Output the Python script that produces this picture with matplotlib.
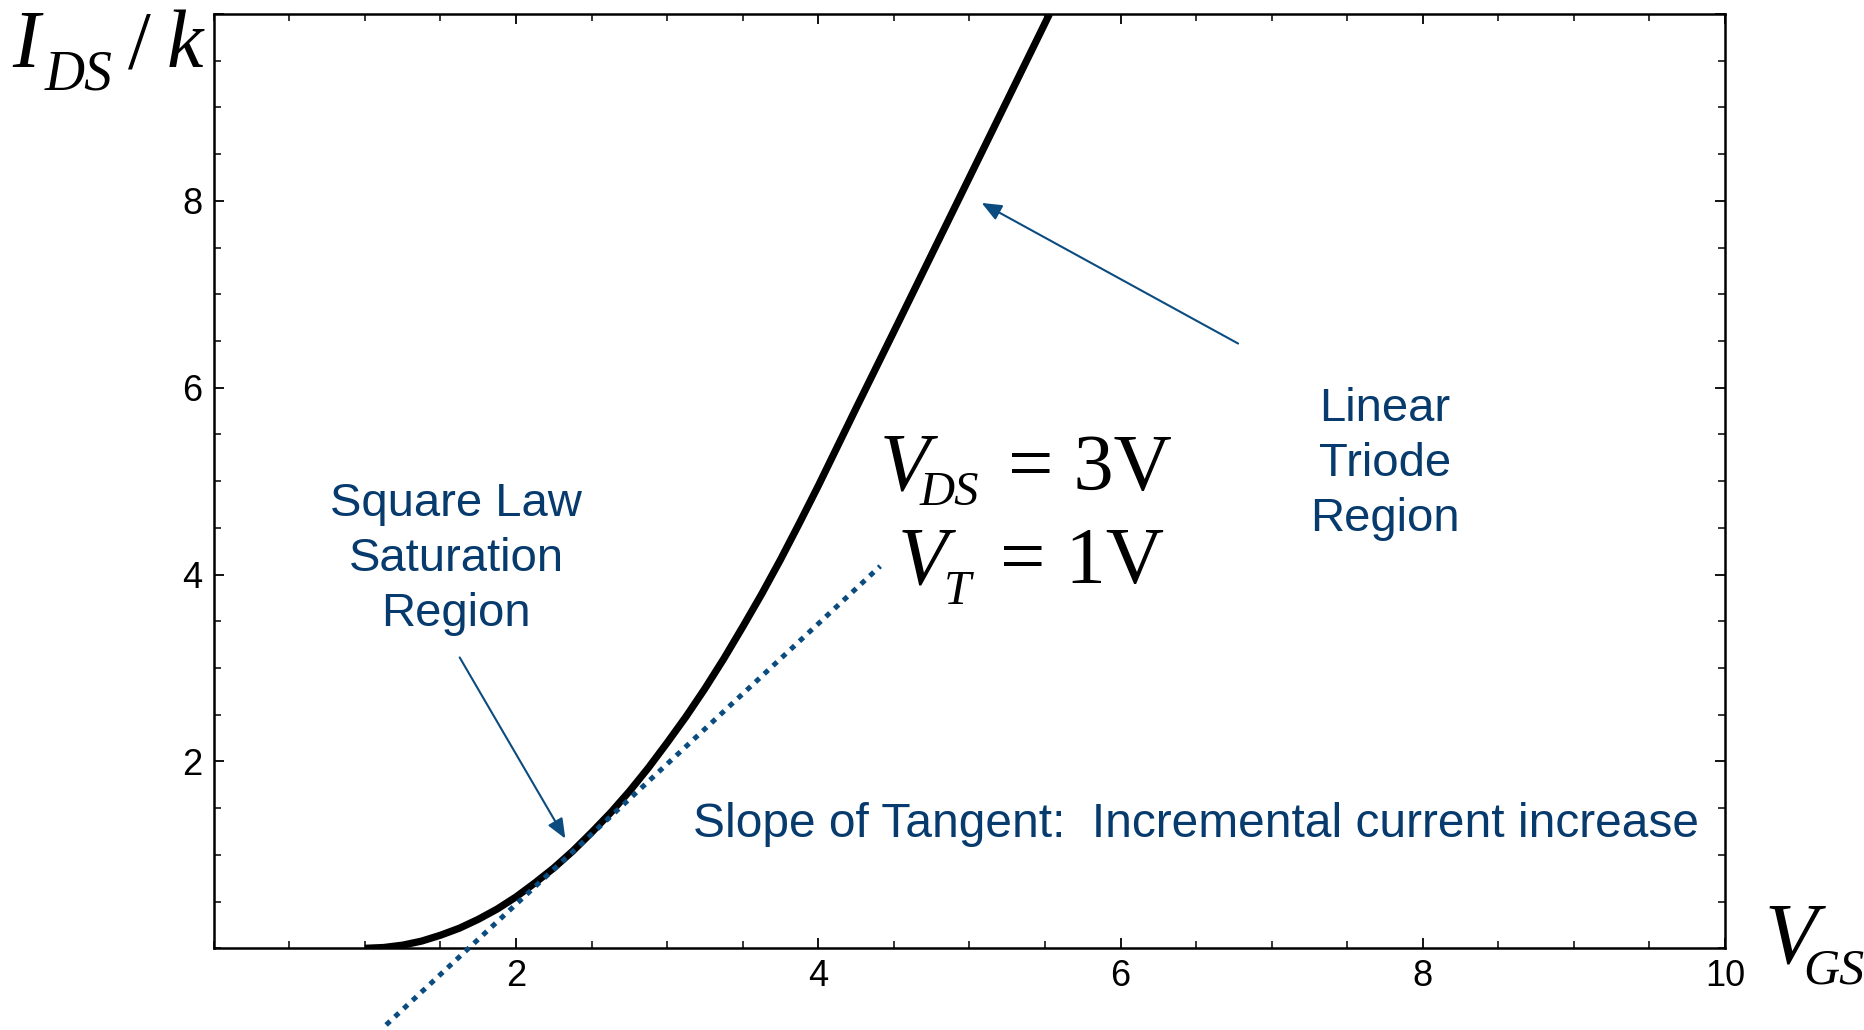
import numpy as np
import matplotlib
matplotlib.use("Agg")
import matplotlib.pyplot as plt
from matplotlib.ticker import MultipleLocator, FixedLocator

# -----------------------------
# Data: I_DS/k versus V_GS (V_DS = 3 V, V_T = 1 V)
# -----------------------------
vgs = [1.0, 1.125, 1.25, 1.375, 1.5, 1.625, 1.75, 1.875, 2.0, 2.125,
       2.25, 2.375, 2.5, 2.625, 2.75, 2.875, 3.0, 3.125, 3.25, 3.375,
       3.5, 3.625, 3.75, 3.875, 4.0, 4.25, 4.5, 5.0, 5.53]
ids_k = [0.0, 0.009, 0.034, 0.077, 0.14, 0.215, 0.31, 0.42, 0.55, 0.70,
         0.86, 1.04, 1.24, 1.45, 1.68, 1.93, 2.2, 2.48, 2.78, 3.10,
         3.44, 3.79, 4.16, 4.55, 4.95, 5.78, 6.6, 8.25, 10.0]

# tangent line drawn at the saturation-region point
tangent_x = [1.14, 4.41]
tangent_y = [-0.82, 4.09]

x_major = [2, 4, 6, 8, 10]
y_major = [2, 4, 6, 8]

W, H = 1865, 1030
navy = "#073b6d"
blue = "#0b4c80"

plt.rcParams["font.family"] = ["Liberation Sans", "DejaVu Sans"]

fig = plt.figure(figsize=(W / 100, H / 100), dpi=100)
ax = fig.add_axes([213.8 / W, 81.7 / H, (1725 - 213.8) / W, (948.3 - 14) / H])

ax.plot(vgs, ids_k, color="black", lw=5.2, solid_capstyle="butt",
        solid_joinstyle="round", zorder=3)
ax.plot(tangent_x, tangent_y, color=blue, lw=3.6, dashes=(1.1, 1.3),
        dash_capstyle="butt", clip_on=False, zorder=4)

ax.set_xlim(0, 10)
ax.set_ylim(0, 10)

# -----------------------------
# Frame and ticks
# -----------------------------
for s in ax.spines.values():
    s.set_linewidth(1.8)

ax.xaxis.set_major_locator(FixedLocator(x_major))
ax.yaxis.set_major_locator(FixedLocator(y_major + [10]))
ax.xaxis.set_minor_locator(MultipleLocator(0.5))
ax.yaxis.set_minor_locator(MultipleLocator(0.5))
ax.set_xticklabels([str(v) for v in x_major])
ax.set_yticklabels([str(v) for v in y_major] + [""])

ax.tick_params(which="both", direction="in", top=True, right=True,
               labelsize=26, pad=8, colors="black")
ax.tick_params(which="major", length=7.5, width=1.3)
ax.tick_params(which="minor", length=5, width=1.1)

# -----------------------------
# Axis labels
# -----------------------------
serif = ["Liberation Serif", "DejaVu Serif"]


def fig_text(px, py, s, size, style="italic"):
    fig.text(px / W, 1 - py / H, s, fontsize=size, family=serif,
             style=style, ha="left", va="baseline")


fig_text(12, 67, "I", 59)
fig_text(45, 89, "DS", 40)
fig_text(128, 67, "/", 59, style="normal")
fig_text(167, 67, "k", 59)

fig_text(1765, 962, "V", 62)
fig_text(1803, 983, "GS", 36)

# -----------------------------
# Annotations
# -----------------------------
ax.text(1.603, 4.167, "Square Law\nSaturation\nRegion", color=navy,
        fontsize=34, ha="center", va="center", linespacing=1.32)
ax.text(7.751, 5.181, "Linear\nTriode\nRegion", color=navy,
        fontsize=34, ha="center", va="center", linespacing=1.32)
ax.text(3.171, 1.327, "Slope of Tangent:  Incremental current increase",
        color=navy, fontsize=34.5, ha="left", va="center")

arrow = dict(arrowstyle="-|>,head_length=0.6,head_width=0.25", lw=1.5,
             color=blue, shrinkA=0, shrinkB=0, mutation_scale=20)
ax.annotate("", xy=(2.326, 1.174), xytext=(1.627, 3.113), arrowprops=arrow)
ax.annotate("", xy=(5.081, 7.978), xytext=(6.778, 6.473), arrowprops=arrow)


def ax_text(x, y, s, size, style="italic"):
    ax.text(x, y, s, fontsize=size, family=serif, style=style,
            ha="left", va="baseline")


ax_text(4.409, 4.910, "V", 59)
ax_text(4.67, 4.74, "DS", 35)
ax_text(5.256, 4.910, "= 3V", 58, style="normal")
ax_text(4.528, 3.909, "V", 59)
ax_text(4.83, 3.68, "T", 35)
ax_text(5.203, 3.909, "= 1V", 58, style="normal")

fig.savefig("out.png", dpi=100)
